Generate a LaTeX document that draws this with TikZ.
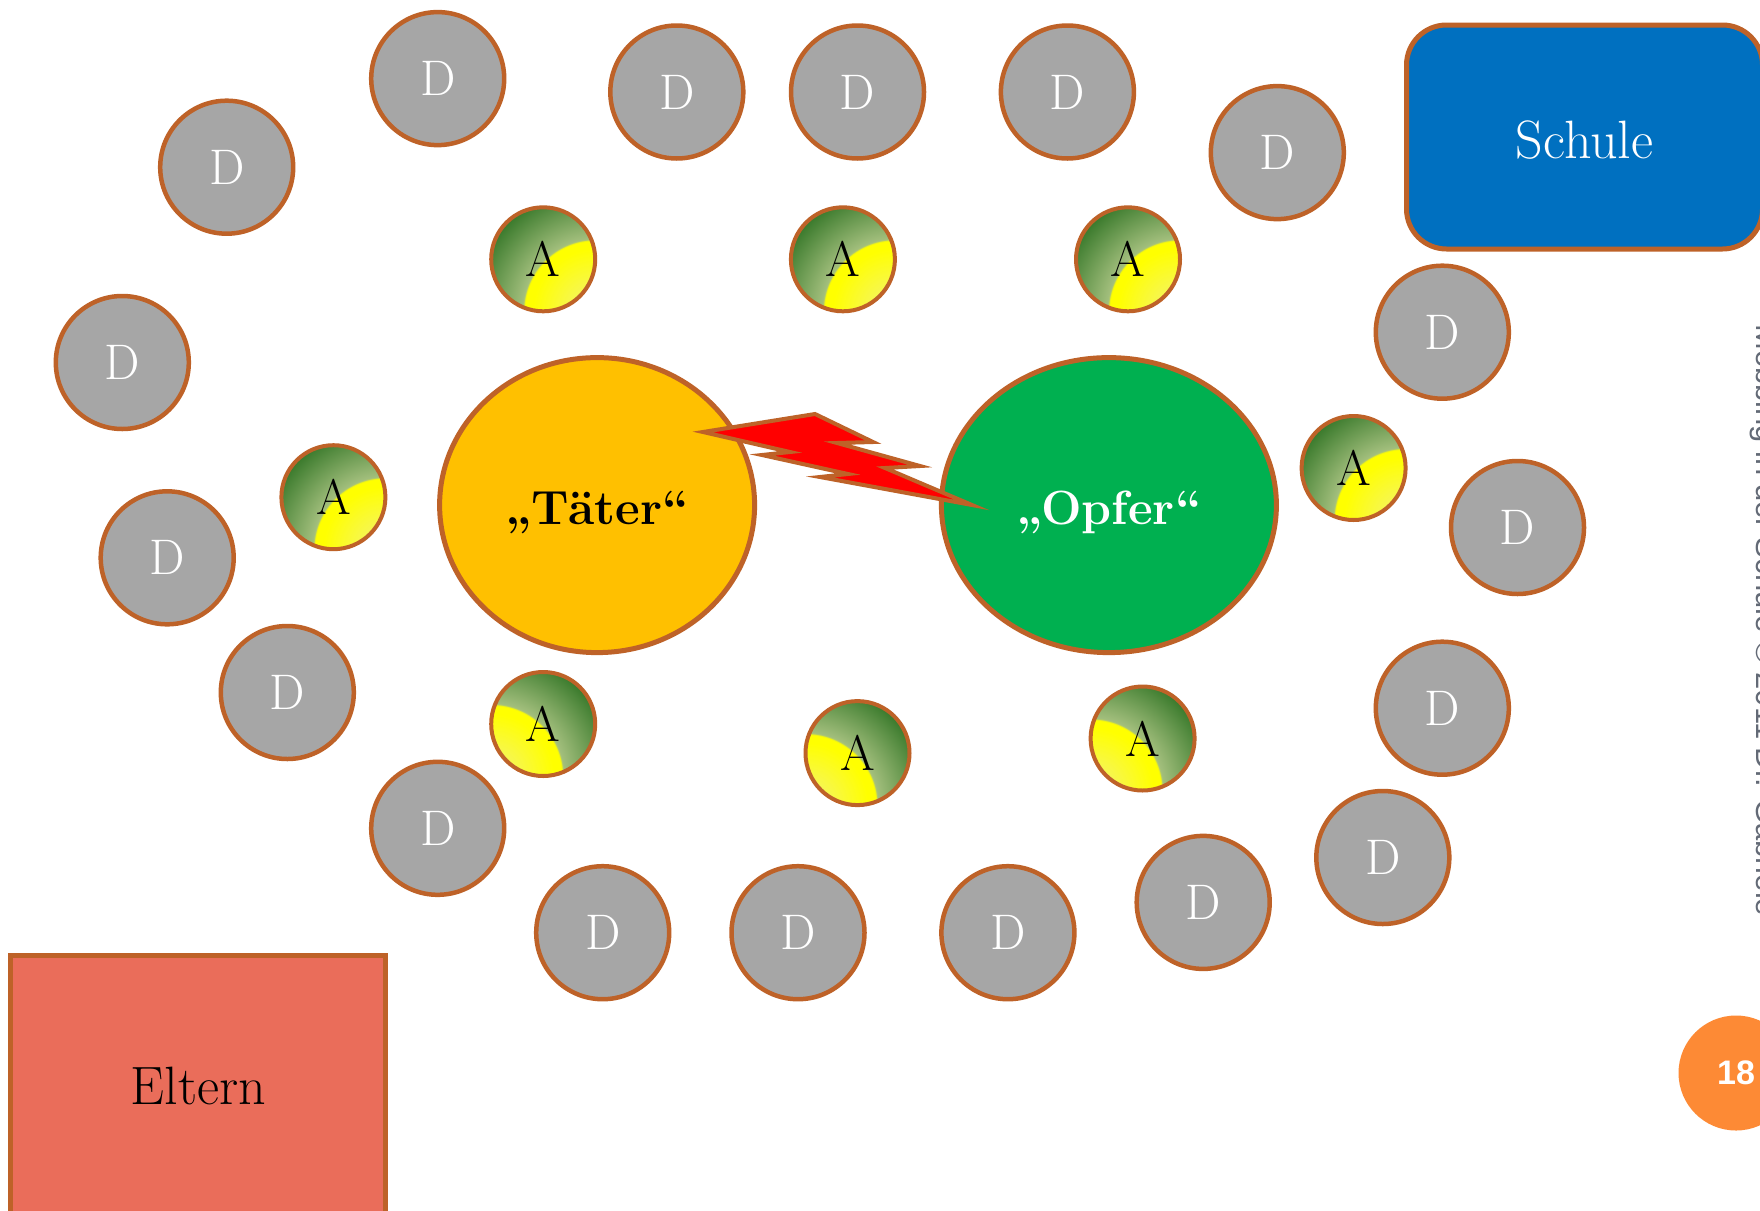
\documentclass[tikz,border=0pt]{standalone}
\usepackage{fontspec}
\newfontfamily\sansf{Liberation Sans}
\usetikzlibrary{shapes.geometric}
\definecolor{bord}{HTML}{BE6228}
\definecolor{dgray}{HTML}{A6A6A6}
\definecolor{taeter}{HTML}{FFC000}
\definecolor{opfer}{HTML}{00B050}
\definecolor{schblue}{HTML}{0070C0}
\definecolor{eltern}{HTML}{EA6D5A}
\definecolor{pgorange}{HTML}{FD8A35}
\definecolor{vgray}{HTML}{636A76}
\definecolor{ylight}{HTML}{F0F07A}
\definecolor{ymid}{HTML}{F8F840}
\definecolor{ypure}{HTML}{FFFF00}
\definecolor{glight}{HTML}{A3BF7D}
\definecolor{gdark}{HTML}{3A7A2C}
\pgfdeclareradialshading{ashade}{\pgfpoint{0bp}{0bp}}{color(0bp)=(ylight); color(6bp)=(ymid); color(12bp)=(ypure); color(13.6bp)=(ypure); color(13.9bp)=(glight); color(24bp)=(gdark); color(50bp)=(gdark)}
\tikzset{
  dnode/.style={circle, draw=bord, line width=4.5pt, fill=dgray, minimum size=133pt, inner sep=0pt, text=white, font=\fontsize{50}{50}\selectfont},
  abase/.style={circle, draw=bord, line width=4pt, minimum size=104pt, inner sep=0pt, text=black, font=\fontsize{50}{50}\selectfont},
  anode/.style={abase, path picture={\shade[shading=ashade] (path picture bounding box.south east) circle (130pt);}},
  anodel/.style={abase, path picture={\shade[shading=ashade] (path picture bounding box.south west) circle (130pt);}},
  bigell/.style={ellipse, draw=bord, line width=5pt, inner sep=0pt, font=\bfseries\fontsize{48}{48}\selectfont},
  boxnode/.style={draw=bord, line width=5pt, inner sep=0pt, font=\fontsize{54}{54}\selectfont}
}
\begin{document}
\begin{tikzpicture}[x=1pt,y=-1pt]
\useasboundingbox (0,0) rectangle (1760,1210);
\fill[white] (0,0) rectangle (1760,1210);
% D circles
\node[dnode] (d1) at (437.7,78.6) {D};
\node[dnode] (d2) at (676.8,92.0) {D};
\node[dnode] (d3) at (857.5,92.0) {D};
\node[dnode] (d4) at (1067.4,92.0) {D};
\node[dnode] (d5) at (1277.3,152.6) {D};
\node[dnode] (d6) at (226.7,167.2) {D};
\node[dnode] (d7) at (122.3,362.5) {D};
\node[dnode] (d8) at (167.2,557.8) {D};
\node[dnode] (d9) at (287.3,692.5) {D};
\node[dnode] (d10) at (437.7,828.3) {D};
\node[dnode] (d11) at (602.7,932.7) {D};
\node[dnode] (d12) at (798.0,932.7) {D};
\node[dnode] (d13) at (1007.9,932.7) {D};
\node[dnode] (d14) at (1203.2,902.4) {D};
\node[dnode] (d15) at (1382.8,857.5) {D};
\node[dnode] (d16) at (1442.3,708.2) {D};
\node[dnode] (d17) at (1517.5,527.5) {D};
\node[dnode] (d18) at (1442.3,332.2) {D};
% A circles
\node[anode] (a1) at (543.2,259.3) {A};
\node[anode] (a2) at (842.9,259.3) {A};
\node[anode] (a3) at (1128.0,259.3) {A};
\node[anode] (a4) at (333.4,497.2) {A};
\node[anode] (a5) at (1353.6,468.0) {A};
\node[anodel] (a6) at (543.2,724.0) {A};
\node[anodel] (a7) at (857.5,753.1) {A};
\node[anodel] (a8) at (1142.6,738.5) {A};
% main ellipses
\node[bigell, fill=taeter, minimum width=315pt, minimum height=295pt, text=black] (taeter) at (597.1,505.1) {\raisebox{-7pt}[\height][\depth]{„Täter“}};
\node[bigell, fill=opfer, minimum width=335pt, minimum height=295pt, text=white] (opfer) at (1108.9,505.1) {\raisebox{-7pt}[\height][\depth]{„Opfer“}};
% lightning bolt
\draw[bord, line width=4pt, fill=red, line join=miter, miter limit=20]
  (703,432) -- (815,414) -- (873,442) -- (837,443) -- (920,466) -- (885,468)
  -- (972,505) -- (820,477) -- (848,474) -- (762,455) -- (790,452) -- cycle;
% boxes
\node[boxnode, fill=schblue, rounded corners=40pt, minimum width=356pt, minimum height=224pt, text=white] (schule) at (1584.5,137) {\raisebox{-3pt}[\height][\depth]{Schule}};
\node[boxnode, fill=eltern, minimum width=375pt, minimum height=262pt, text=black] (eltern) at (198.3,1086) {Eltern};
% footer
\node[rotate=-90, anchor=base west, inner sep=0pt, text=vgray, font=\sansf\fontsize{31}{31}\selectfont] (foot) at (1756,324) {Mobbing in der Schule © 2011 Dr. Gabriele};
\node[circle, fill=pgorange, minimum size=115pt, inner sep=0pt, text=white, font=\sansf\bfseries\fontsize{34}{34}\selectfont] (page) at (1736,1073) {18};
\end{tikzpicture}
\end{document}
